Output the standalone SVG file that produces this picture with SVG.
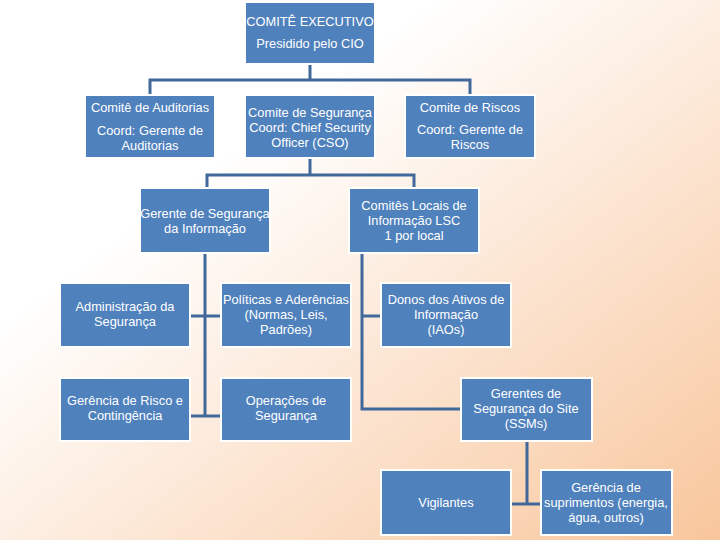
<svg xmlns="http://www.w3.org/2000/svg" width="720" height="540" viewBox="0 0 720 540">
<defs>
<linearGradient id="bg" x1="0" y1="0" x2="1" y2="1">
<stop offset="0.3" stop-color="#ffffff"/>
<stop offset="1" stop-color="#f8c69c"/>
</linearGradient>
<style>
.box{fill:#4f81bd;stroke:#ffffff;stroke-width:2}
.t{fill:#ffffff;font-family:"Liberation Sans","Open Sans",sans-serif;font-size:12.8px;text-anchor:middle}
.c{fill:none;stroke:#40689b;stroke-width:3}
</style>
</defs>
<rect x="0" y="0" width="720" height="540" fill="url(#bg)"/>
<g id="connectors">
<path class="c" d="M310 64V80M150 95V80H470V95"/>
<path class="c" d="M310 158V175M207 188V175H414V188"/>
<path class="c" d="M205 253V416M191 316H221M191 416H221"/>
<path class="c" d="M362 253V409H461M362 316H381"/>
<path class="c" d="M527 441V504M512 504H541"/>
</g>
<g id="n1"><rect class="box" x="245" y="2" width="130" height="62"/><text class="t" x="310" y="26">COMITÊ EXECUTIVO</text><text class="t" x="310" y="48">Presidido pelo CIO</text></g>
<g id="n2"><rect class="box" x="85" y="95" width="130" height="63"/><text class="t" x="150" y="112">Comitê de Auditorias</text><text class="t" x="150" y="135">Coord: Gerente de</text><text class="t" x="150" y="150">Auditorias</text></g>
<g id="n3"><rect class="box" x="245" y="95" width="130" height="63"/><text class="t" x="310" y="117">Comite de Segurança</text><text class="t" x="310" y="132">Coord:  Chief Security</text><text class="t" x="310" y="147">Officer (CSO)</text></g>
<g id="n4"><rect class="box" x="405" y="95" width="130" height="63"/><text class="t" x="470" y="112">Comite de Riscos</text><text class="t" x="470" y="134">Coord: Gerente de</text><text class="t" x="470" y="149">Riscos</text></g>
<g id="n5"><rect class="box" x="140" y="188" width="130" height="65"/><text class="t" x="205" y="218">Gerente de Segurança</text><text class="t" x="205" y="233">da Informação</text></g>
<g id="n6"><rect class="box" x="349" y="188" width="130" height="65"/><text class="t" x="414" y="210">Comitês Locais de</text><text class="t" x="414" y="225">Informação LSC</text><text class="t" x="414" y="240">1 por local</text></g>
<g id="n7"><rect class="box" x="60" y="283" width="130" height="64"/><text class="t" x="125" y="311">Administração da</text><text class="t" x="125" y="326">Segurança</text></g>
<g id="n8"><rect class="box" x="221" y="283" width="130" height="64"/><text class="t" x="286" y="304">Políticas e Aderências</text><text class="t" x="286" y="319">(Normas, Leis,</text><text class="t" x="286" y="334">Padrões)</text></g>
<g id="n9"><rect class="box" x="381" y="283" width="130" height="64"/><text class="t" x="446" y="304">Donos dos Ativos de</text><text class="t" x="446" y="319">Informação</text><text class="t" x="446" y="334">(IAOs)</text></g>
<g id="n10"><rect class="box" x="60" y="378" width="130" height="63"/><text class="t" x="125" y="405">Gerência de Risco e</text><text class="t" x="125" y="420">Contingência</text></g>
<g id="n11"><rect class="box" x="221" y="378" width="130" height="63"/><text class="t" x="286" y="405">Operações de</text><text class="t" x="286" y="420">Segurança</text></g>
<g id="n12"><rect class="box" x="461" y="378" width="131" height="63"/><text class="t" x="526" y="398">Gerentes de</text><text class="t" x="526" y="413">Segurança do Site</text><text class="t" x="526" y="428">(SSMs)</text></g>
<g id="n13"><rect class="box" x="381" y="470" width="130" height="65"/><text class="t" x="446" y="507">Vigilantes</text></g>
<g id="n14"><rect class="box" x="541" y="470" width="131" height="65"/><text class="t" x="606" y="492">Gerência de</text><text class="t" x="606" y="507">suprimentos (energia,</text><text class="t" x="606" y="522">água, outros)</text></g>
</svg>
